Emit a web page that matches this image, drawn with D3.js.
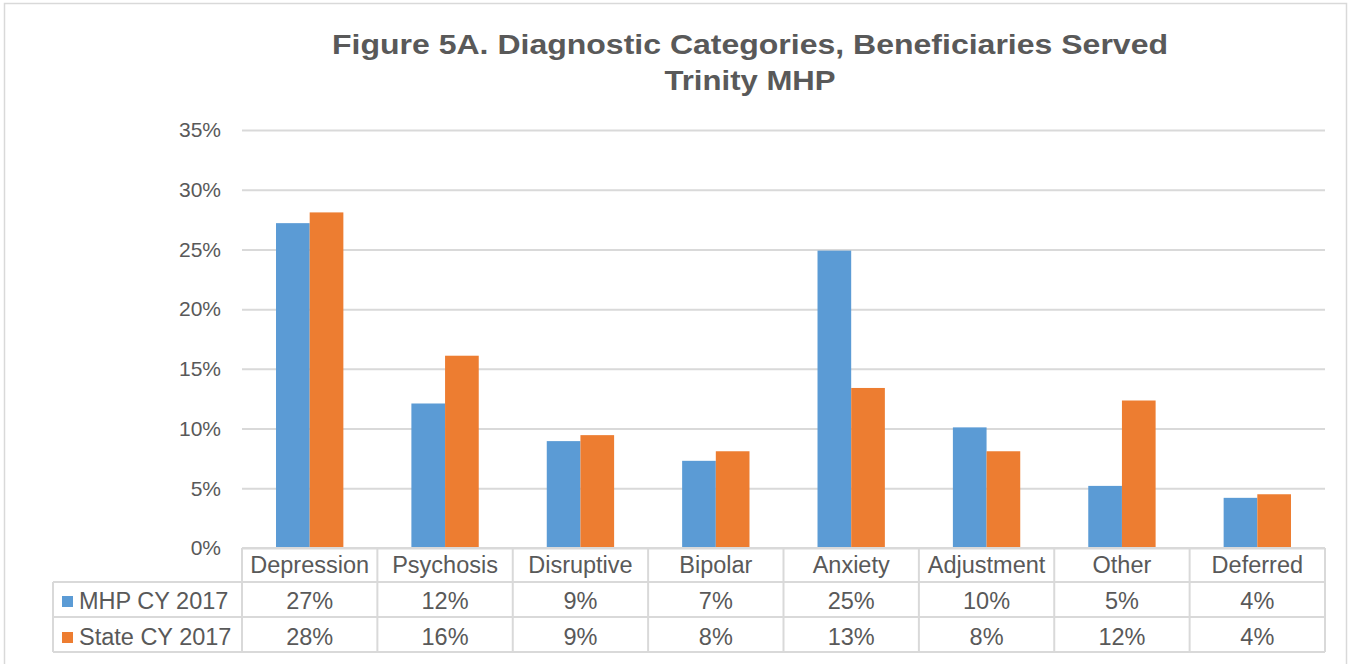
<!DOCTYPE html>
<html><head><meta charset="utf-8">
<script src="https://cdn.jsdelivr.net/npm/d3@7/dist/d3.min.js"></script>
<style>body{margin:0;background:#fff}svg{display:block}text{font-family:"Liberation Sans",Arial,sans-serif}</style>
</head><body>
<svg id="c" width="1357" height="664"></svg>
<script>
const categories = ["Depression","Psychosis","Disruptive","Bipolar","Anxiety","Adjustment","Other","Deferred"];
const seriesNames = ["MHP CY 2017","State CY 2017"];
const mhpValues = [27.2,12.1,8.95,7.3,24.9,10.1,5.2,4.2];
const stateValues = [28.1,16.1,9.45,8.1,13.4,8.1,12.35,4.5];
const mhpLabels = ["27%","12%","9%","7%","25%","10%","5%","4%"];
const stateLabels = ["28%","16%","9%","8%","13%","8%","12%","4%"];
const yTicks = [0,5,10,15,20,25,30,35];
const colors = ["#5B9BD5","#ED7D31"];

const svg = d3.select("#c");
const L = 242, R = 1325, T = 130, B = 548;
const gray = "#595959", grid = "#D9D9D9";

// outer border
svg.append("rect").attr("x",4.5).attr("y",3.5).attr("width",1342).attr("height",670)
  .attr("fill","none").attr("stroke","#D9D9D9").attr("stroke-width",1.5);

// title
svg.append("text").attr("x",750).attr("y",54).attr("text-anchor","middle")
  .attr("font-size",28).attr("font-weight","bold").attr("fill",gray)
  .attr("textLength",836).attr("lengthAdjust","spacingAndGlyphs")
  .text("Figure 5A. Diagnostic Categories, Beneficiaries Served");
svg.append("text").attr("x",750).attr("y",90).attr("text-anchor","middle")
  .attr("font-size",28).attr("font-weight","bold").attr("fill",gray)
  .attr("textLength",171).attr("lengthAdjust","spacingAndGlyphs")
  .text("Trinity MHP");

const y = d3.scaleLinear().domain([0,35]).range([B,T]);
const x0 = d3.scaleBand().domain(categories).range([L,R]).paddingInner(0).paddingOuter(0);
const x1 = d3.scaleBand().domain([0,1]).range([0,x0.bandwidth()]).paddingInner(0).paddingOuter(1.01);

// gridlines
const yAxis = d3.axisLeft(y).tickValues(yTicks).tickSize(-(R-L)).tickFormat(d=>d+"%").tickPadding(21);
const ga = svg.append("g").attr("transform",`translate(${L},0)`).call(yAxis);
ga.select(".domain").remove();
ga.selectAll(".tick line").attr("stroke",grid).attr("stroke-width",2);
ga.selectAll(".tick text").attr("fill",gray).attr("font-size",21).attr("font-family","Liberation Sans, Arial, sans-serif");

// bars
const series = [mhpValues, stateValues];
series.forEach((vals,si)=>{
  svg.append("g").selectAll("rect").data(categories).join("rect")
    .attr("x",d=>x0(d)+x1(si))
    .attr("y",(d,i)=>y(vals[i]))
    .attr("width",x1.bandwidth())
    .attr("height",(d,i)=>y(0)-y(vals[i]))
    .attr("fill",colors[si]);
});

// data table
const rowY = [548,582,617,652];
const tL = 53;
const tg = svg.append("g").attr("stroke","#D9D9D9").attr("stroke-width",2);
tg.append("line").attr("x1",L).attr("x2",R).attr("y1",rowY[0]).attr("y2",rowY[0]);
[1,2,3].forEach(i=>tg.append("line").attr("x1",tL).attr("x2",R).attr("y1",rowY[i]).attr("y2",rowY[i]));
tg.append("line").attr("x1",tL).attr("x2",tL).attr("y1",rowY[1]).attr("y2",rowY[3]);
categories.forEach(c=>tg.append("line").attr("x1",x0(c)).attr("x2",x0(c)).attr("y1",rowY[0]).attr("y2",rowY[3]));
tg.append("line").attr("x1",R).attr("x2",R).attr("y1",rowY[0]).attr("y2",rowY[3]);

const txt = svg.append("g").attr("fill",gray).attr("font-size",23.5);
categories.forEach((c,i)=>{
  const cx = x0(c)+x0.bandwidth()/2;
  txt.append("text").attr("x",cx).attr("y",573).attr("text-anchor","middle").text(c);
  txt.append("text").attr("x",cx).attr("y",609).attr("text-anchor","middle").text(mhpLabels[i]);
  txt.append("text").attr("x",cx).attr("y",645).attr("text-anchor","middle").text(stateLabels[i]);
});
seriesNames.forEach((s,i)=>{
  const yy = [609,645][i];
  svg.append("rect").attr("x",62).attr("y",yy-13).attr("width",11).attr("height",11).attr("fill",colors[i]);
  txt.append("text").attr("x",79).attr("y",yy).text(s);
});
</script>
</body></html>
